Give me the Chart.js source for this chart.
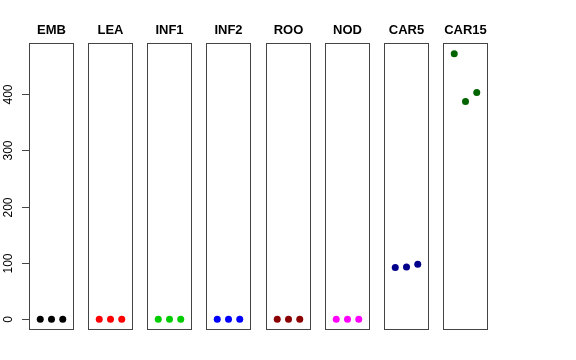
<!DOCTYPE html>
<html>
<head>
<meta charset="utf-8">
<script src="https://cdn.jsdelivr.net/npm/chart.js@4"></script>
<style>
  body { margin: 0; background: #fff; }
  #wrap { position: relative; width: 576px; height: 360px; }
  #wrap canvas { position: absolute; top: 0; }
</style>
</head>
<body>
<div id="wrap"></div>
<script>
// ---------------- data ----------------
const panels = ["EMB", "LEA", "INF1", "INF2", "ROO", "NOD", "CAR5", "CAR15"];
const colours = ["#000000", "#ff0000", "#00cd00", "#0000ff", "#8b0000", "#ff00ff", "#00008b", "#006400"];
const reps = [1, 2, 3];
const embVals = [0, 0, 0];
const leaVals = [0, 0, 0];
const inf1Vals = [0, 0, 0];
const inf2Vals = [0, 0, 0];
const rooVals = [0, 0, 0];
const nodVals = [0, 0, 0];
const car5Vals = [92, 93, 98];
const car15Vals = [472, 387, 403];
const yTicks = [0, 100, 200, 300, 400];

const series = [embVals, leaVals, inf1Vals, inf2Vals, rooVals, nodVals, car5Vals, car15Vals];

// shared y range, padded 4% like base R
const allVals = series.flat();
const lo = Math.min(...allVals), hi = Math.max(...allVals);
const pad = (hi - lo) * 0.04;
const yMin = lo - pad, yMax = hi + pad;

// ---------------- layout ----------------
const boxLeft0 = 29, boxStep = 59.14, boxWidth = 45;
const sidePad = 14;

// draws panel frame, title and (first panel only) the y axis
const panelDecor = {
  id: "panelDecor",
  afterDraw(chart, args, opts) {
    const { ctx, chartArea: a } = chart;
    ctx.save();
    ctx.strokeStyle = "#444";
    ctx.lineWidth = 1;
    ctx.strokeRect(a.left + 0.5, a.top + 0.5, a.right - a.left - 1, a.bottom - a.top - 1);

    ctx.fillStyle = "#000";
    ctx.font = "bold 13px 'Liberation Sans', Arial, sans-serif";
    ctx.textAlign = "center";
    ctx.textBaseline = "alphabetic";
    ctx.fillText(opts.title, (a.left + a.right) / 2, 34);

    if (opts.axis) {
      const y = chart.scales.y;
      ctx.font = "12px 'Liberation Sans', Arial, sans-serif";
      yTicks.forEach((v) => {
        const py = Math.round(y.getPixelForValue(v)) + 0.5;
        ctx.beginPath();
        ctx.moveTo(a.left - 7, py);
        ctx.lineTo(a.left + 0.5, py);
        ctx.stroke();
        ctx.save();
        ctx.translate(12, py);
        ctx.rotate(-Math.PI / 2);
        ctx.textAlign = "center";
        ctx.fillText(String(v), 0, 0);
        ctx.restore();
      });
    }
    ctx.restore();
  },
};

const wrap = document.getElementById("wrap");

panels.forEach((name, i) => {
  const boxLeft = Math.round(boxLeft0 + i * boxStep);
  const padLeft = i === 0 ? boxLeft : sidePad;
  const canvasLeft = boxLeft - padLeft;
  const canvas = document.createElement("canvas");
  canvas.width = padLeft + boxWidth + sidePad;
  canvas.height = 360;
  canvas.style.left = canvasLeft + "px";
  wrap.appendChild(canvas);

  new Chart(canvas.getContext("2d"), {
    type: "scatter",
    data: {
      datasets: [
        {
          data: reps.map((r, k) => ({ x: r, y: series[i][k] })),
          pointRadius: 3.5,
          pointBackgroundColor: colours[i],
          pointBorderWidth: 0,
          showLine: false,
        },
      ],
    },
    options: {
      responsive: false,
      animation: false,
      layout: { padding: { left: padLeft, right: sidePad, top: 43, bottom: 30 } },
      plugins: {
        legend: { display: false },
        tooltip: { enabled: false },
        panelDecor: { title: name, axis: i === 0 },
      },
      scales: {
        x: { type: "linear", min: 0, max: 4, display: false },
        y: { min: yMin, max: yMax, display: false },
      },
    },
    plugins: [panelDecor],
  });
});
</script>
</body>
</html>
